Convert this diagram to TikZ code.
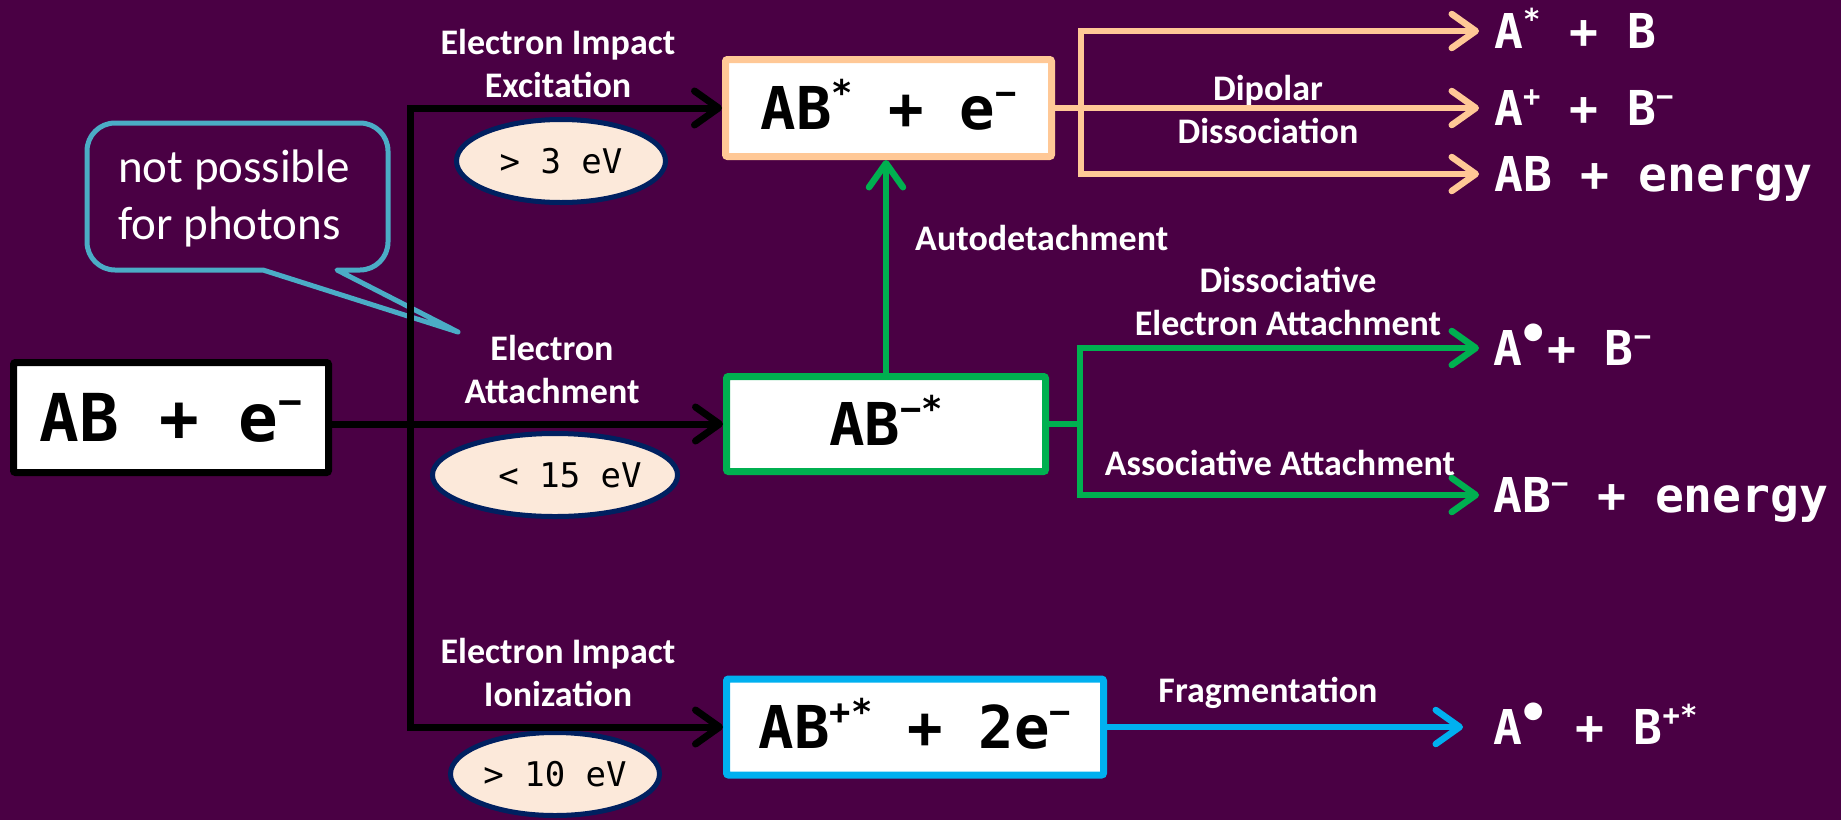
\documentclass[tikz,border=0pt]{standalone}
\usepackage{fontspec}
\usepackage{graphicx}
\setmainfont{Carlito}
\newfontfamily\monof{DejaVu Sans Mono}
\usetikzlibrary{arrows.meta,shapes.geometric}
\definecolor{bgc}{HTML}{4A0044}
\definecolor{peachc}{HTML}{FFC896}
\definecolor{greenc}{HTML}{00B050}
\definecolor{bluec}{HTML}{00B0F0}
\definecolor{bubblec}{HTML}{4BACC6}
\definecolor{ellfill}{HTML}{FCE9DA}
\definecolor{navyc}{HTML}{002060}
\newcommand\supx[1]{\raisebox{0.4em}{\scalebox{0.6}{#1}}}
\newcommand\bulx{\hspace{0.04em}\raisebox{0.3em}{\makebox[0.42em]{\scalebox{1.05}{•}}}\hspace{0.06em}}
\tikzset{
  box/.style={draw, fill=white, line width=7pt, rounded corners=2pt, inner sep=0pt,
    font=\monof\bfseries\fontsize{59}{59}\selectfont, text height=43pt, text depth=0pt},
  lbl/.style={text=white, font=\bfseries\fontsize{36}{43}\selectfont, align=center, inner sep=0pt},
  outc/.style={text=white, font=\monof\bfseries\fontsize{48}{48}\selectfont, anchor=west,
    inner sep=0pt, text height=35pt, text depth=0pt},
  ell/.style={ellipse, draw=navyc, fill=ellfill, line width=5pt, minimum width=209pt,
    minimum height=83pt, inner sep=0pt, font=\monof\fontsize{34}{34}\selectfont},
  conn/.style={line width=7pt},
  connc/.style={line width=6.5pt},
  barb/.tip={Straight Barb[length=24pt,width=34pt,round]},
  arrowed/.style={-barb},
  arrowedboth/.style={barb-barb},
}
\begin{document}
\begin{tikzpicture}[x=1pt,y=-1pt]
\fill[bgc] (0,0) rectangle (1841,820);
\useasboundingbox (0,0) rectangle (1841,820);

% speech bubble
\draw[bubblec, line width=5pt, line join=round]
  (263,270) -- (115,270) arc[start angle=270, end angle=180, radius=28pt]
  -- (87,151) arc[start angle=180, end angle=90, radius=28pt]
  -- (360,123) arc[start angle=90, end angle=0, radius=28pt]
  -- (388,242) arc[start angle=0, end angle=-90, radius=28pt]
  -- (337,270) -- (458,332) -- cycle;
\node[text=white, font=\fontsize{47}{57}\selectfont, align=left, anchor=west, inner sep=0pt]
  (bub) at (118,198) {not possible\\for photons};

% boxes
\node[box, draw=black, minimum width=315pt, minimum height=110pt,
  font=\monof\bfseries\fontsize{66}{66}\selectfont, text height=48pt] (b1) at (171,417.5) {AB + e\supx{−}};
\node[box, draw=peachc, minimum width=326pt, minimum height=97pt] (b2) at (888.5,108) {AB\supx{*} + e\supx{−}};
\node[box, draw=greenc, minimum width=319pt, minimum height=95pt] (b3) at (886,424) {AB\supx{−*}};
\node[box, draw=bluec, minimum width=377pt, minimum height=96pt] (b4) at (915,727) {AB\supx{+*} + 2e\supx{−}};

% ellipses
\node[ell] (e1) at (561,161) {> 3 eV};
\node[ell] (e2) at (555,475) {\hspace*{30pt}< 15 eV};
\node[ell] (e3) at (555,774) {> 10 eV};

% labels
\node[lbl] (l1) at (558,63) {Electron Impact\\Excitation};
\node[lbl] (l2) at (552,369) {Electron\\Attachment};
\node[lbl] (l3) at (558,672) {Electron Impact\\Ionization};
\node[lbl] (l4) at (1268,109) {Dipolar\\Dissociation};
\node[lbl, anchor=west] (l5) at (915,238) {Autodetachment};
\node[lbl] (l6) at (1288,301) {Dissociative\\Electron Attachment};
\node[lbl] (l7) at (1280,463) {Associative Attachment};
\node[lbl] (l8) at (1268,693) {Fragmentation};

% arrow tips and outcomes
\coordinate (t1) at (1479,31);
\coordinate (t2) at (1479,108);
\coordinate (t3) at (1479,174);
\coordinate (t4) at (1479,348);
\coordinate (t5) at (1479,495);
\coordinate (t6) at (1463,727);
\coordinate (jx) at (410,400);
\coordinate (px) at (1081,100);
\coordinate (gx) at (1080,400);

\node[outc] (o1) at ([xshift=15pt]t1) {A\supx{*} + B};
\node[outc] (o2) at ([xshift=15pt]t2) {A\supx{+} + B\supx{−}};
\node[outc] (o3) at ([xshift=15pt]t3) {AB + energy};
\node[outc] (o4) at ([xshift=14pt]t4) {A\bulx+ B\supx{−}};
\node[outc] (o5) at ([xshift=14pt]t5) {AB\supx{−} + energy};
\node[outc] (o6) at ([xshift=30pt]t6) {A\bulx\ + B\supx{+*}};

% black connectors
\draw[conn, arrowedboth] (b4.west) -- (b4.west -| jx) |- (b2.west);
\draw[conn, arrowed] (b1.east |- b3.west) -- (b3.west);

% peach
\draw[peachc, connc, arrowedboth] (t1) -| (px) |- (t3);
\draw[peachc, connc, arrowed] (b2.east) -- (t2);

% green
\draw[greenc, connc, arrowed] (b3.north) -- (b3.north |- b2.south);
\draw[greenc, connc, arrowedboth] (t4) -| (gx) |- (t5);
\draw[greenc, connc] (b3.east) -- (b3.east -| gx);

% blue
\draw[bluec, connc, arrowed] (b4.east) -- (t6);
\end{tikzpicture}
\end{document}
